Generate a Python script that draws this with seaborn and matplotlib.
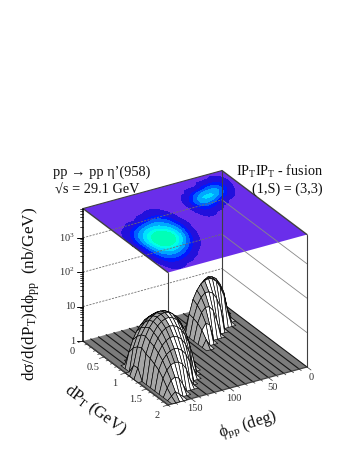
import numpy as np
import matplotlib
matplotlib.use('Agg')
import matplotlib.pyplot as plt
import seaborn as sns
from matplotlib.collections import PolyCollection
from matplotlib.colors import ListedColormap

# phi axis runs 0..180 in 5 deg bins, dPt axis 0..2 in 0.1 bins
phi_back = [0, 5, 10, 15, 20, 25, 30, 35, 40, 45, 50, 55, 60, 65, 70, 75, 80]
phi_front = [85, 90, 95, 100, 105, 110, 115, 120, 125, 130, 135, 140, 145, 150, 155, 160, 165, 170, 175, 180]
dpt_bins = [round(0.1 * i, 1) for i in range(21)]

# log10(dsigma) * 100, back peak (phi 0..80), one list per dPt bin
back_02 = [0, 0, 16, 37, 39, 23, 0, 0, 0, 0, 0, 0, 0, 0, 0, 0, 0]
back_03 = [0, 0, 0, 57, 82, 93, 94, 85, 62, 0, 0, 0, 0, 0, 0, 0, 0]
back_04 = [0, 0, 0, 30, 83, 109, 127, 135, 138, 132, 121, 99, 68, 0, 0, 0, 0]
back_05 = [0, 0, 0, 0, 32, 83, 112, 131, 141, 145, 142, 135, 120, 97, 57, 0, 0]
back_06 = [0, 0, 0, 0, 0, 0, 0, 64, 94, 112, 119, 119, 109, 89, 54, 0, 0]
back_07 = [0, 0, 0, 0, 0, 0, 0, 0, 0, 40, 74, 88, 89, 77, 49, 0, 0]
back_08 = [0, 0, 0, 0, 0, 0, 0, 0, 0, 0, 0, 0, 48, 55, 38, 0, 0]
back_09 = [0, 0, 0, 0, 0, 0, 0, 0, 0, 0, 0, 0, 0, 0, 20, 0, 0]

# same for the front peak (phi 85..180)
front_06 = [0, 0, 0, 0, 0, 29, 42, 45, 42, 29, 0, 0, 0, 0, 0, 0, 0, 0, 0, 0]
front_07 = [0, 0, 0, 0, 0, 46, 68, 80, 85, 83, 74, 57, 21, 0, 0, 0, 0, 0, 0, 0]
front_08 = [0, 0, 0, 0, 23, 62, 85, 99, 109, 114, 115, 112, 106, 93, 77, 53, 0, 0, 0, 0]
front_09 = [0, 0, 0, 0, 36, 73, 96, 112, 123, 131, 135, 135, 132, 126, 115, 100, 78, 45, 0, 0]
front_10 = [0, 0, 0, 0, 41, 81, 106, 126, 138, 146, 151, 152, 149, 144, 132, 119, 97, 67, 0, 0]
front_11 = [0, 0, 0, 0, 28, 79, 111, 130, 147, 157, 163, 165, 163, 157, 147, 130, 111, 79, 28, 0]
front_12 = [0, 0, 0, 0, 0, 66, 105, 130, 148, 160, 167, 170, 168, 163, 153, 138, 116, 85, 30, 0]
front_13 = [0, 0, 0, 0, 0, 28, 83, 116, 135, 152, 160, 165, 164, 159, 149, 133, 110, 77, 0, 0]
front_14 = [0, 0, 0, 0, 0, 0, 46, 88, 114, 132, 144, 150, 152, 149, 141, 126, 105, 73, 0, 0]
front_15 = [0, 0, 0, 0, 0, 0, 0, 26, 74, 100, 117, 127, 131, 131, 125, 114, 95, 66, 0, 0]
front_16 = [0, 0, 0, 0, 0, 0, 0, 0, 0, 58, 83, 97, 105, 108, 105, 97, 83, 58, 0, 0]
front_17 = [0, 0, 0, 0, 0, 0, 0, 0, 0, 0, 20, 53, 70, 78, 80, 76, 64, 43, 0, 0]
front_18 = [0, 0, 0, 0, 0, 0, 0, 0, 0, 0, 0, 0, 0, 24, 44, 50, 44, 24, 0, 0]
front_19 = [0, 0, 0, 0, 0, 0, 0, 0, 0, 0, 0, 0, 0, 0, 0, 10, 20, 10, 0, 0]

empty_back = [0] * len(phi_back)
empty_front = [0] * len(phi_front)
back_rows = [empty_back, empty_back, back_02, back_03, back_04, back_05, back_06, back_07, back_08, back_09] + [empty_back] * 11
front_rows = [empty_front] * 6 + [front_06, front_07, front_08, front_09, front_10, front_11, front_12, front_13,
                                  front_14, front_15, front_16, front_17, front_18, front_19, empty_front]

phi_bins = np.array(phi_back + phi_front, dtype=float)
dpt_bins = np.array(dpt_bins)
log_z = np.array([b + f for b, f in zip(back_rows, front_rows)], dtype=float) / 100.0

z_max = 3.85
z_decades = [0, 1, 2, 3]
map_levels = [0.12, 0.3, 0.55, 0.8, 1.05, 1.25, 1.4, 1.5, 1.9]
map_colors = ['#2210dc', '#0018ff', '#0060ff', '#00a8ff', '#00e0ff', '#00ffe8', '#00ffb8', '#00f080']
map_base = '#6a2eea'
dpt_ticks = [0, 0.5, 1, 1.5, 2]
dpt_ticklabels = ['0', '0.5', '1', '1.5', '2']
phi_ticks = [0, 50, 100, 150]


def project(phi, dpt, logz):
    # parallel projection of the box onto the 357x462 picture, in pixels
    v = 1 - np.asarray(phi) / 180.0
    u = np.asarray(dpt) / 2.0
    return 83 + 85 * u + 139 * v, 341 + 64 * u - 38 * v - 34.4 * np.asarray(logz)


def seg(ax, p0, p1, **kw):
    x0, y0 = project(*p0)
    x1, y1 = project(*p1)
    sns.lineplot(x=[float(x0), float(x1)], y=[float(y0), float(y1)], sort=False, estimator=None, ax=ax, legend=False, **kw)


def soften(field):
    # 1-2-1 filter in both directions, only to keep the map contours from following the bins
    kernel = np.array([0.25, 0.5, 0.25])
    padded = np.pad(field, 1, mode='edge')
    out = np.apply_along_axis(lambda r: np.convolve(r, kernel, mode='same'), 0, padded)
    out = np.apply_along_axis(lambda r: np.convolve(r, kernel, mode='same'), 1, out)
    return out[1:-1, 1:-1]


sns.set_theme(style='white')
plt.rcParams['font.family'] = ['Liberation Serif', 'DejaVu Serif']
plt.rcParams['mathtext.fontset'] = 'custom'
plt.rcParams['mathtext.rm'] = 'Liberation Serif'
plt.rcParams['mathtext.it'] = 'Liberation Serif'
plt.rcParams['mathtext.default'] = 'rm'

fig = plt.figure(figsize=(3.57, 4.62), dpi=100)
ax = fig.add_axes([0, 0, 1, 1])
ax.set_xlim(0, 357)
ax.set_ylim(462, 0)
ax.axis('off')

# colour map on the lid of the box
phi_grid, dpt_grid = np.meshgrid(phi_bins, dpt_bins)
top_x, top_y = project(phi_grid, dpt_grid, z_max)
corner_phi = [180, 180, 0, 0]
corner_dpt = [0, 2, 2, 0]
lid = np.array(project(np.array(corner_phi), np.array(corner_dpt), z_max)).T
ax.fill(lid[:, 0], lid[:, 1], color=map_base, lw=0, zorder=1)
ax.contourf(top_x, top_y, soften(log_z ** 1.67), levels=np.array(map_levels) ** 1.67,
            cmap=ListedColormap(sns.blend_palette(map_colors, len(map_colors))), zorder=2)

# walls
dark = '#404040'
for d in z_decades[1:]:
    seg(ax, (180, 0, d), (0, 0, d), color='#707070', lw=0.6, ls=(0, (2.5, 1.5)), zorder=3)
    seg(ax, (0, 0, d), (0, 2, d), color='#888888', lw=0.6, zorder=3)
seg(ax, (0, 0, 0), (0, 0, z_max), color=dark, lw=0.8, zorder=3)
seg(ax, (180, 2, 0), (180, 2, z_max), color=dark, lw=0.8, zorder=3)
seg(ax, (0, 2, 0), (0, 2, z_max), color=dark, lw=0.8, zorder=3)
seg(ax, (180, 0, z_max), (0, 0, z_max), color=dark, lw=0.8, zorder=3)
seg(ax, (0, 0, z_max), (0, 2, z_max), color=dark, lw=1.0, zorder=3)
seg(ax, (180, 0, z_max), (180, 2, z_max), color=dark, lw=1.0, zorder=3)
seg(ax, (180, 0, 0), (180, 0, z_max), color='black', lw=1.1, zorder=3)

# floor: grey with dark stripes every 10 deg
floor = np.array(project(np.array(corner_phi), np.array(corner_dpt), 0)).T
ax.fill(floor[:, 0], floor[:, 1], color='#7c7c7c', lw=0, zorder=4)
for p in phi_bins[::2]:
    seg(ax, (p, 0, 0), (p, 2, 0), color='#151515', lw=0.8, zorder=4)
seg(ax, (180, 0, 0), (180, 2, 0), color='#404040', lw=0.9, zorder=4)
seg(ax, (180, 2, 0), (0, 2, 0), color='#404040', lw=0.9, zorder=4)

# surface, painted back to front; squeezed faces go dark like the dense mesh of the original
polys, faces = [], []
cell_area = 12126 / 720.0
for i in range(len(dpt_bins) - 1):
    for j in range(len(phi_bins) - 1):
        cell = log_z[i:i + 2, j:j + 2]
        if cell.max() == 0:
            continue
        xs, ys = project(phi_bins[[j, j + 1, j + 1, j]], dpt_bins[[i, i, i + 1, i + 1]],
                         [cell[0, 0], cell[0, 1], cell[1, 1], cell[1, 0]])
        polys.append(np.column_stack([xs, ys]))
        area = 0.5 * abs(np.dot(xs, np.roll(ys, 1)) - np.dot(ys, np.roll(xs, 1)))
        slope = (cell[:, 1] - cell[:, 0]).mean()
        grey = min(1.0, 0.05 + 0.9 * area / cell_area)
        if slope < 0:
            grey *= 0.65
        faces.append((grey, grey, grey))
ax.add_collection(PolyCollection(polys, facecolors=faces, edgecolors='black', linewidths=0.45, zorder=5))

# z axis ticks
for d in z_decades:
    x, y = project(180, 0, d)
    ax.plot([x - 6, x], [y, y], color='black', lw=0.7, zorder=6)
    for m in range(2, 10):
        lz = d + np.log10(m)
        if lz < z_max:
            xm, ym = project(180, 0, lz)
            ax.plot([xm - 3, xm], [ym, ym], color='black', lw=0.5, zorder=6)
for d, lab in zip(z_decades, ['1', '10', '$10^{2}$', '$10^{3}$']):
    x, y = project(180, 0, d)
    ax.text(x - 8, y, lab, ha='right', va='center', fontsize=7.5, color='#303030', zorder=7)

# dPt and phi axis ticks
for t in np.arange(0, 2.01, 0.1):
    x, y = project(180, t, 0)
    n = 5 if abs(t * 2 - round(t * 2)) < 1e-6 else 2.5
    ax.plot([x, x - n * 0.96], [y, y + n * 0.28], color='#303030', lw=0.5, zorder=6)
for t, lab in zip(dpt_ticks, dpt_ticklabels):
    x, y = project(180, t, 0)
    ax.text(x - 11, y + 10, lab, ha='center', va='center', fontsize=7.5, color='#303030', zorder=7)
for t in np.arange(0, 181, 10):
    x, y = project(t, 2, 0)
    n = 5 if t % 50 == 0 else 2.5
    ax.plot([x, x + n * 0.8], [y, y + n * 0.6], color='#303030', lw=0.5, zorder=6)
for t in phi_ticks:
    x, y = project(t, 2, 0)
    ax.text(x + 4, y + 10, str(t), ha='center', va='center', fontsize=7.5, color='#303030', zorder=7)

# titles
ax.text(31, 294, 'd\u03c3/d(dP$_{T}$)d\u03d5$_{pp}$  (nb/GeV)', rotation=90, ha='center', va='center', fontsize=12.3, color='#101010', zorder=7)
ax.text(95, 410, 'dP$_{T}$ (GeV)', rotation=-37, ha='center', va='center', fontsize=12, color='#101010', zorder=7)
ax.text(248, 425, '\u03d5$_{pp}$ (deg)', rotation=17, ha='center', va='center', fontsize=11.7, color='#101010', zorder=7)
ax.text(53, 172, 'pp \u2192 pp \u03b7\u2019(958)', ha='left', va='center', fontsize=10.4, color='#101010', zorder=7)
ax.text(55, 190, '\u221as = 29.1 GeV', ha='left', va='center', fontsize=10.3, color='#101010', zorder=7)
ax.text(323, 171, 'IP$_{T}$IP$_{T}$ - fusion', ha='right', va='center', fontsize=10.2, color='#101010', zorder=7)
ax.text(323, 189, '(1,S) = (3,3)', ha='right', va='center', fontsize=10.2, color='#101010', zorder=7)

plt.savefig('out.png', dpi=100)
